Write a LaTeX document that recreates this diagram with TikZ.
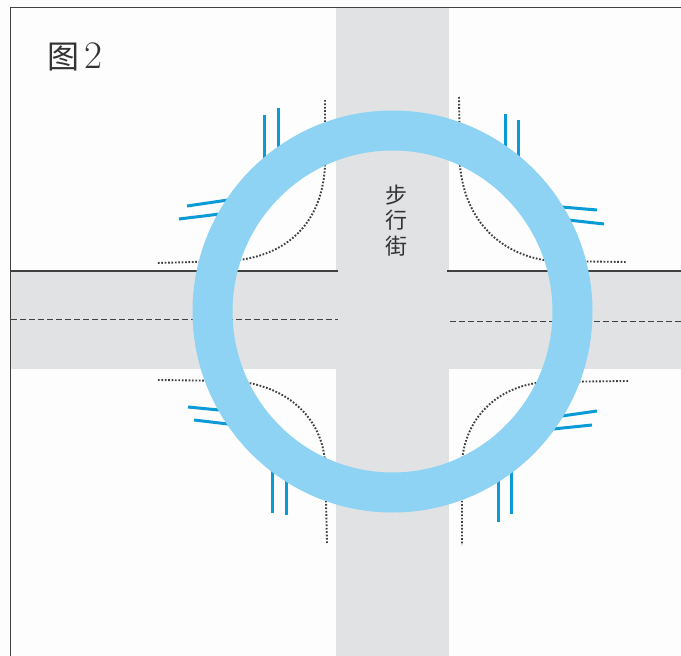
\documentclass[tikz,border=0pt]{standalone}
\usepackage{fontspec}
\newfontfamily\cjk{Noto Sans CJK SC}
\definecolor{roadgray}{HTML}{E1E2E4}
\definecolor{ringblue}{HTML}{8ED3F3}
\definecolor{tickblue}{HTML}{0A9BD6}
\definecolor{dotgray}{HTML}{404040}
\definecolor{papercol}{HTML}{FDFDFD}
\begin{document}
\begin{tikzpicture}[x=1pt, y=-1pt, line join=round,
	road/.style={fill=roadgray, draw=none},
	curb/.style={draw=dotgray, line width=1.9pt, dash pattern=on 1.7pt off 1.7pt},
	tick/.style={draw=tickblue, line width=3pt},
	label/.style={inner sep=0pt, text=black!80}]
	% Page
	\useasboundingbox (0,0) rectangle (681,656);
	\fill[papercol] (0,0) rectangle (681,656);

	% Roads
	\fill[road] (336,8) rectangle (449,656);
	\fill[road] (11,271) rectangle (681,369);

	% Frame
	\draw[black!75, line width=0.8pt] (10.5,656) -- (10.5,7.5) -- (681,7.5);

	% Road edge and centre lines
	\draw[black!75, line width=1.3pt] (11,271) -- (338,271);
	\draw[black!75, line width=1.3pt] (447,271) -- (681,271);
	\draw[black!75, line width=1pt, dash pattern=on 6pt off 3pt] (11,319.5) -- (338,319.5);
	\draw[black!75, line width=1pt, dash pattern=on 6pt off 3pt] (450,321) -- (681,321);

	% Dotted kerbs, top left then top right
	\draw[curb] (325,100) -- (325,165) .. controls (323,215) and (295,256) .. (230,261) -- (157,263);
	\draw[curb] (459,97) -- (460,165) .. controls (464,215) and (495,254) .. (550,261) -- (627,262);

	% Dotted kerbs, bottom left then bottom right
	\draw[curb] (158,380) -- (235,381) .. controls (290,386) and (322,420) .. (325,462) -- (327,543);
	\draw[curb] (628,381) -- (545,382) .. controls (495,386) and (465,420) .. (462,462) -- (462,545);

	% Blue stop lines
	\draw[tick] (264,115) -- (264,161);
	\draw[tick] (278,108) -- (278,150);
	\draw[tick] (187,206) -- (228,200);
	\draw[tick] (179,219) -- (220,214);
	\draw[tick] (505,114) -- (505,148);
	\draw[tick] (518,120) -- (518,161);
	\draw[tick] (562,207) -- (597,210);
	\draw[tick] (568,220) -- (604,224);
	\draw[tick] (188,407) -- (219,410);
	\draw[tick] (194,420) -- (228,424);
	\draw[tick] (272,470) -- (272,513);
	\draw[tick] (286,480) -- (286,515);
	\draw[tick] (597,411) -- (562,416);
	\draw[tick] (592,425) -- (553,429);
	\draw[tick] (498,480) -- (498,522);
	\draw[tick] (511,470) -- (511,514);

	% Ring
	\coordinate (O) at (392.5,311.5);
	\draw[ringblue, line width=40pt] (O) circle [x radius=180, y radius=181];

	% Labels
	\node[label, font=\cjk\fontsize{32}{32}\selectfont] (figname) at (63,57) {图};
	\node[label, font=\fontsize{39}{39}\selectfont, right=0pt] (fignum) at (84,56) {2};
	\node[label, font=\cjk\fontsize{22}{22}\selectfont] (walka) at (396,195) {步};
	\node[label, font=\cjk\fontsize{22}{22}\selectfont] (walkb) at (396,220) {行};
	\node[label, font=\cjk\fontsize{22}{22}\selectfont] (walkc) at (396,246) {街};
\end{tikzpicture}
\end{document}
